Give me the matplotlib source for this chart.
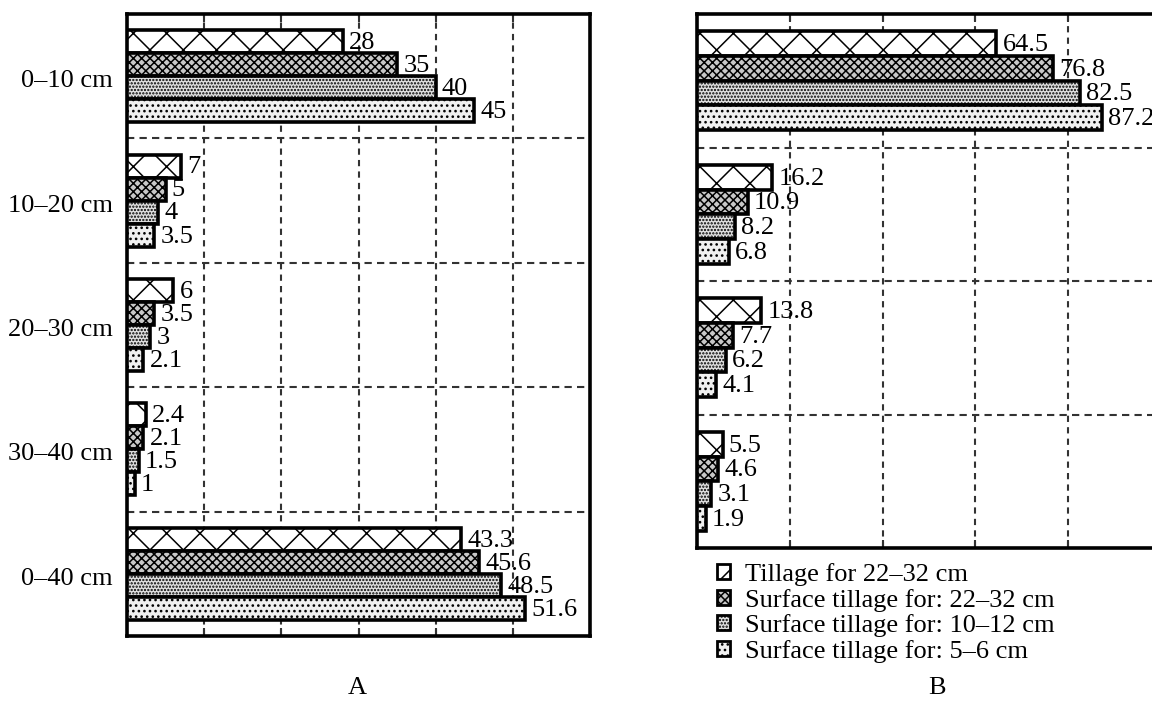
import matplotlib
matplotlib.use("Agg")
import matplotlib.pyplot as plt
import matplotlib.patches as patches
import numpy as np

plt.rcParams['font.family'] = ['Liberation Serif', 'DejaVu Serif']
plt.rcParams['hatch.linewidth'] = 1.1

# data
layers_a = ["0–10 cm", "10–20 cm", "20–30 cm", "30–40 cm", "0–40 cm"]
layers_b = ["0–10 cm", "10–20 cm", "20–30 cm", "30–40 cm"]
series = ["Tillage for 22–32 cm",
          "Surface tillage for: 22–32 cm",
          "Surface tillage for: 10–12 cm",
          "Surface tillage for: 5–6 cm"]

# panel A, one list per series (order of layers_a)
a_till_22_32 = [28, 7, 6, 2.4, 43.3]
a_surf_22_32 = [35, 5, 3.5, 2.1, 45.6]
a_surf_10_12 = [40, 4, 3, 1.5, 48.5]
a_surf_5_6 = [45, 3.5, 2.1, 1, 51.6]

# panel B
b_till_22_32 = [64.5, 16.2, 13.8, 5.5]
b_surf_22_32 = [76.8, 10.9, 7.7, 4.6]
b_surf_10_12 = [82.5, 8.2, 6.2, 3.1]
b_surf_5_6 = [87.2, 6.8, 4.1, 1.9]

hatches = ['x', 'xxxx', '.....', '...']
faces = ['white', '#c8c8c8', '#e0e0e0', '#f0f0f0']
FS = 19
GRID = '#333333'


def panel(ax, labels, data, xmax, step, show_labels):
    n = len(labels)
    y = np.arange(n)
    h = 0.185
    for i, vals in enumerate(data):
        yy = y + (i - 1.5) * h
        bars = ax.barh(yy, vals, height=h, color=faces[i], hatch=hatches[i],
                       edgecolor='black', linewidth=2.6, zorder=3)
        for b, v in zip(bars, vals):
            ax.annotate(f"{v:g}", (b.get_width(), b.get_y() + h / 2),
                        xytext=(4.5, -1), textcoords='offset points',
                        va='center', ha='left', fontsize=FS, zorder=4)
    ax.set_xlim(0, xmax)
    ax.set_ylim(n - 0.5, -0.5)
    xt = np.arange(step, xmax, step)
    ax.set_xticks(xt)
    ax.tick_params(axis='x', direction='in', top=True, bottom=True,
                   labelbottom=False, length=6, width=1.5, color=GRID)
    for x in xt:
        ax.axvline(x, color=GRID, lw=1.5, ls=(0, (3, 2.5)), zorder=1)
    for s in np.arange(0.5, n - 0.5, 1):
        ax.axhline(s, color=GRID, lw=1.5, ls=(0, (3.5, 2.5)), zorder=1)
    ax.set_yticks(y + 0.02)
    if show_labels:
        ax.set_yticklabels(labels, fontsize=FS)
    else:
        ax.set_yticklabels([])
    ax.tick_params(axis='y', length=0, pad=10)
    for sp in ax.spines.values():
        sp.set_linewidth(2.6)


fig = plt.figure(figsize=(11.52, 7.06), dpi=100)
W, H = 1152, 706

axA = fig.add_axes([127 / W, (H - 636) / H, 463 / W, 622 / H])
panel(axA, layers_a, [a_till_22_32, a_surf_22_32, a_surf_10_12, a_surf_5_6],
      60, 10, True)

axB = fig.add_axes([697 / W, (H - 548) / H, 464 / W, 534 / H])
panel(axB, layers_b, [b_till_22_32, b_surf_22_32, b_surf_10_12, b_surf_5_6],
      100, 20, False)

fig.text(357 / W, 1 - 688 / H, "A", ha='center', va='center', fontsize=FS)
fig.text(937 / W, 1 - 688 / H, "B", ha='center', va='center', fontsize=FS)

handles = [patches.Patch(facecolor=faces[i], hatch=hatches[i],
                         edgecolor='black', linewidth=2.0) for i in range(4)]
fig.legend(handles, series, loc='upper left',
           bbox_to_anchor=(717 / W, 1 - 563 / H), frameon=False,
           fontsize=FS, handlelength=0.5, handleheight=0.5,
           handletextpad=0.55, labelspacing=0.1, borderpad=0,
           borderaxespad=0)

fig.savefig("out.png", dpi=100)
